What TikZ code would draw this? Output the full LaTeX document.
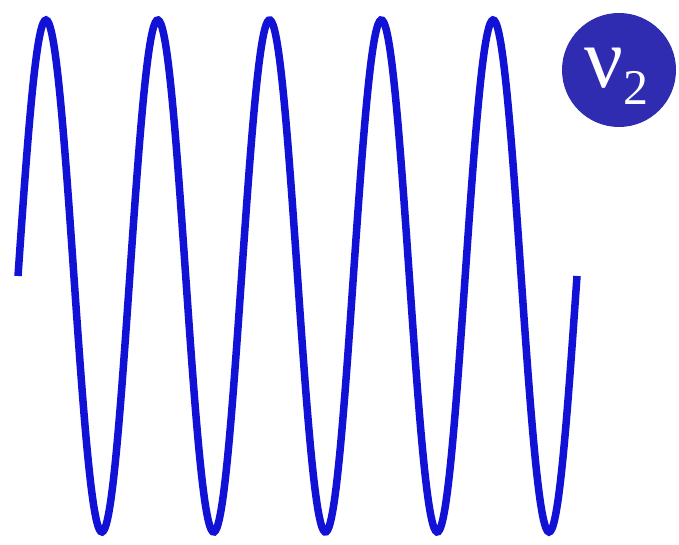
\documentclass[tikz,border=0pt]{standalone}
\usepackage{fontspec}
\setmainfont{Liberation Serif}
\usepackage{tikz}
\usetikzlibrary{positioning}
\definecolor{waveblue}{RGB}{18, 18, 215}
\definecolor{discblue}{RGB}{48, 44, 178}

\begin{document}
\begin{tikzpicture}[
        x=1pt, y=1pt,
        wave/.style = {waveblue, line width=7.5pt},
        disc/.style = {circle, fill=discblue, minimum size=114pt, inner sep=0pt, text=white}
    ]
        % Frame
        \useasboundingbox (0,0) rectangle (679,545);

        % Wave, five periods
        \draw [wave] plot [domain=18:577, samples=400, smooth] (\x, {269+256*sin((\x-18)*3.22004)});

        % Label
        \node [disc] (freq) at (619,475) {};
        \node [text=white, anchor=base west, inner sep=0pt] (nu) at (584,457) {\fontsize{86}{86}\selectfont ν\raisebox{-17pt}{\fontsize{50}{50}\selectfont 2}};
    \end{tikzpicture}
\end{document}
